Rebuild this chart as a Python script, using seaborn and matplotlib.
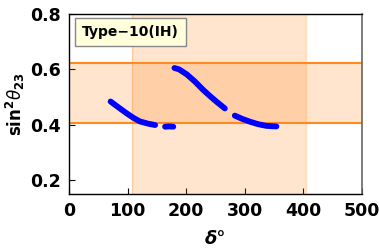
import numpy as np
import pandas as pd
import matplotlib
matplotlib.use("Agg")
import matplotlib.pyplot as plt
import seaborn as sns

# allowed regions
delta_band = [108, 404]
s23_band = [0.408, 0.622]

# blue curve segments: delta (deg), sin^2 theta23
seg1_d = [71, 85, 98, 110, 121, 135, 147]
seg1_s = [0.484, 0.462, 0.442, 0.425, 0.412, 0.404, 0.399]
seg2_d = [164, 171, 178]
seg2_s = [0.393, 0.394, 0.393]
seg3_d = [180, 188, 201, 215, 229, 241, 252, 266]
seg3_s = [0.605, 0.600, 0.582, 0.556, 0.526, 0.503, 0.483, 0.459]
seg4_d = [283, 296, 309, 323, 337, 354]
seg4_s = [0.433, 0.421, 0.411, 0.402, 0.396, 0.394]

xticks = [0, 100, 200, 300, 400, 500]
yticks = [0.2, 0.4, 0.6, 0.8]

sns.set_style("ticks")
plt.rcParams["font.family"] = ["DejaVu Sans"]

fig = plt.figure(figsize=(3.79, 2.5), dpi=100)
ax = fig.add_axes([0.182, 0.224, 0.773, 0.72])

orange = "#ff7f0e"
ax.axvspan(delta_band[0], delta_band[1], color=orange, alpha=0.2, lw=0)
ax.axhspan(s23_band[0], s23_band[1], color=orange, alpha=0.2, lw=0)
for xv in delta_band:
    ax.axvline(xv, color=orange, alpha=0.25, lw=1)
for yv in s23_band:
    ax.axhline(yv, color="#ff8a1f", lw=1.5)

segs = [(seg1_d, seg1_s), (seg2_d, seg2_s), (seg3_d, seg3_s), (seg4_d, seg4_s)]
for d, s in segs:
    df = pd.DataFrame({"delta": d, "s23": s})
    sns.lineplot(data=df, x="delta", y="s23", ax=ax, color="#0000ff",
                 lw=4.2, sort=False, solid_capstyle="round", estimator=None)

ax.set_xlim(0, 500)
ax.set_ylim(0.15, 0.8)
ax.set_xticks(xticks)
ax.set_yticks(yticks)
ax.set_xticklabels([str(t) for t in xticks], fontweight="bold", fontsize=12.5)
ax.set_yticklabels([f"{t:.1f}" for t in yticks], fontweight="bold", fontsize=12.5)
ax.tick_params(direction="in", length=4, width=0.8, pad=6, colors="black",
               labelcolor="black")
for side in ["top", "left", "bottom"]:
    ax.spines[side].set_color("black")
    ax.spines[side].set_linewidth(1.0)
ax.spines["right"].set_color("#666666")
ax.spines["right"].set_linewidth(1.2)

ax.set_xlabel("\u03b4\u00b0", fontsize=13, fontweight="bold", fontstyle="italic",
              color="black", labelpad=7)
ax.set_ylabel(r"$\mathbf{sin}^{\mathbf{2}}\theta_{\mathbf{23}}$", fontsize=12,
              fontweight="bold", color="black", labelpad=2)

ax.text(0.045, 0.94, "Type\u221210(IH)", transform=ax.transAxes, fontsize=10,
        fontweight="bold", va="top", ha="left", color="black",
        bbox=dict(boxstyle="square,pad=0.5", fc="#ffffdc", ec="#888888", lw=1))

fig.savefig("out.png", dpi=100)
